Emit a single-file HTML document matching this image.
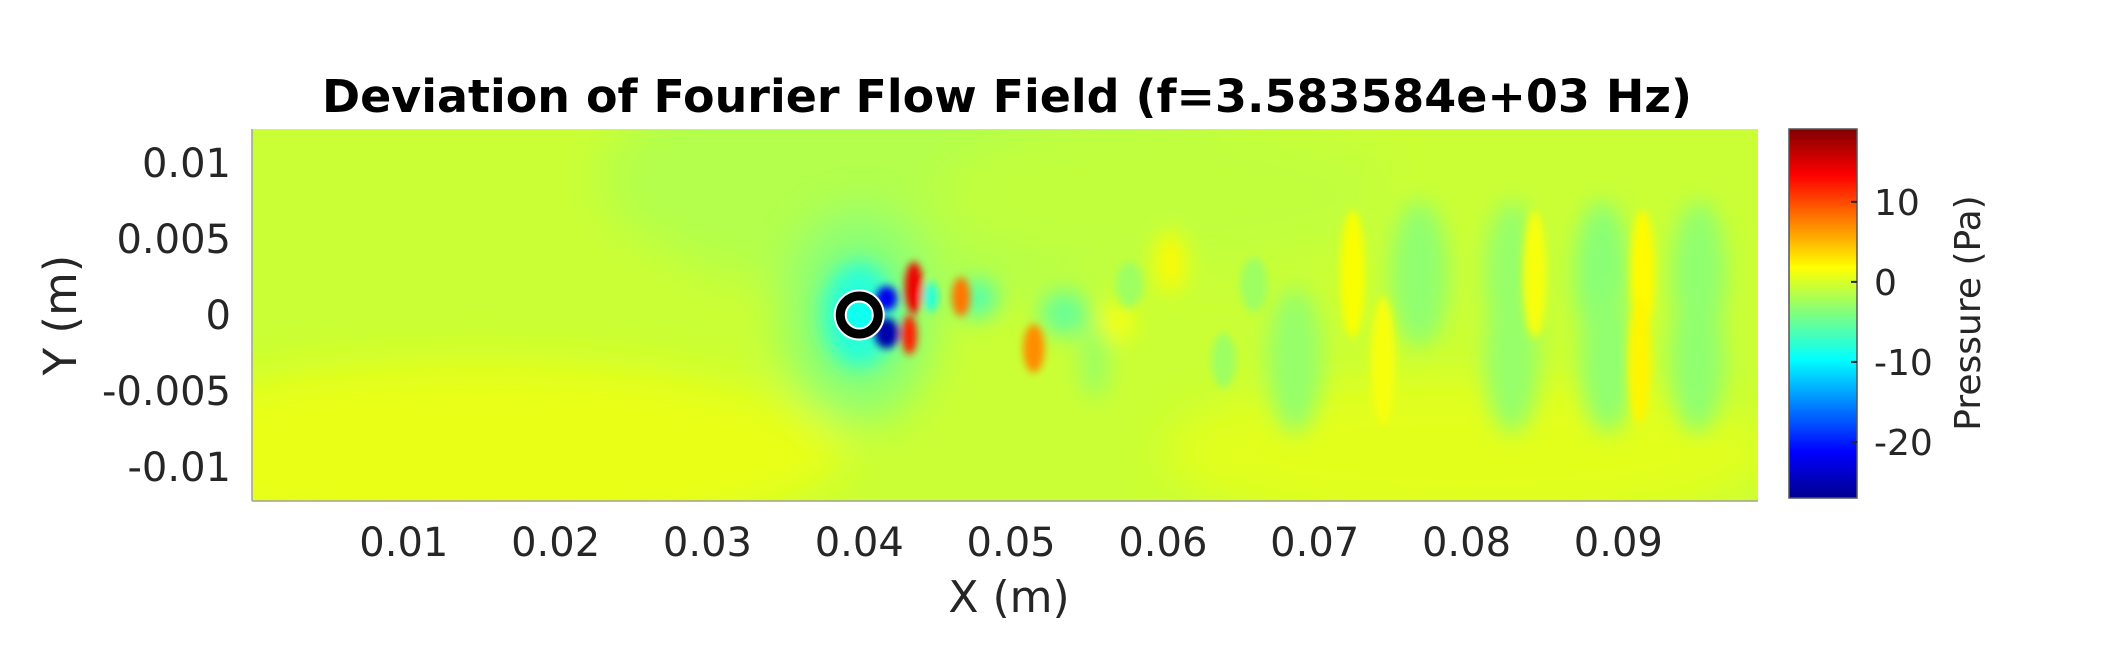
<!DOCTYPE html>
<html><head><meta charset="utf-8"><style>
html,body{margin:0;padding:0;background:#fff;}
svg{display:block;font-family:"DejaVu Sans","Liberation Sans",sans-serif;}
</style></head><body>
<svg id="chart" width="2126" height="650" viewBox="0 0 2126 650">
<defs>
<filter id="blurH" x="-30%" y="-30%" width="160%" height="160%"><feGaussianBlur stdDeviation="22"/></filter>
<filter id="blur" x="-30%" y="-30%" width="160%" height="160%"><feGaussianBlur stdDeviation="11"/></filter>
<filter id="blur2" x="-60%" y="-60%" width="220%" height="220%"><feGaussianBlur stdDeviation="4"/></filter>
<clipPath id="plotclip"><rect x="252" y="129" width="1506" height="372"/></clipPath>
<linearGradient id="jet" x1="0" y1="1" x2="0" y2="0">
<stop offset="0" stop-color="#00008f"/><stop offset="0.125" stop-color="#0000ff"/><stop offset="0.375" stop-color="#00ffff"/><stop offset="0.625" stop-color="#ffff00"/><stop offset="0.875" stop-color="#ff0000"/><stop offset="1" stop-color="#800000"/>
</linearGradient>
</defs>
<text x="1007" y="112" text-anchor="middle" font-weight="bold" font-size="45" fill="#000" textLength="1370" lengthAdjust="spacingAndGlyphs">Deviation of Fourier Flow Field (f=3.583584e+03 Hz)</text>
<g id="field" clip-path="url(#plotclip)"></g>
<line x1="252" y1="129" x2="252" y2="501" stroke="#a0a0a0" stroke-width="1.5"/>
<line x1="252" y1="501" x2="1758" y2="501" stroke="#a0a0a0" stroke-width="1.5"/>
<g id="xticks"></g>
<g id="yticks"></g>
<text x="1009" y="612" text-anchor="middle" font-size="44" fill="#262626">X (m)</text>
<text transform="translate(76,315) rotate(-90)" text-anchor="middle" font-size="45" fill="#262626">Y (m)</text>
<rect x="1789" y="129" width="68" height="369" fill="url(#jet)" stroke="#555" stroke-width="1.5"/>
<g id="cticks"></g>
<text transform="translate(1980,313) rotate(-90)" text-anchor="middle" font-size="36" fill="#262626">Pressure (Pa)</text>
</svg>
<script>
// axes data
const xTicks = [0.01,0.02,0.03,0.04,0.05,0.06,0.07,0.08,0.09];
const yTicks = [0.01,0.005,0,-0.005,-0.01];
const yTickLabels = ["0.01","0.005","0","-0.005","-0.01"];
const cTicks = [10,0,-10,-20];
// broad background regions: centre x, centre y, radius x, radius y (m), pressure (Pa)
const regX  = [0.045,0.015,0.080,0.040,0.060];
const regY  = [0.009,-0.009,-0.009,0,0.008];
const regRX = [0.022,0.024,0.02,0.005,0.015];
const regRY = [0.008,0.006,0.005,0.007,0.005];
const regP  = [-1.6,0.8,0.5,-3.5,-1.0];
// field blobs: centre x, centre y, radius x, radius y (m), pressure (Pa)
const blobX  = [0.040,0.0418,0.0418,0.0436,0.0433,0.0447,0.0467,0.0515,0.0478,0.0535,0.0769,0.0830,0.0889,0.0953,0.0725,0.0845,0.0916,0.0687,0.0830,0.0893,0.0952,0.0745,0.0914,0.0605,0.0555,0.0640,0.0578,0.0570,0.0660];
const blobY  = [0,0.0011,-0.0012,0.0018,-0.0013,0.0012,0.0012,-0.0022,0.0011,0.0001,0.0027,0.0027,0.0027,0.0027,0.0027,0.0027,0.0027,-0.003,-0.003,-0.003,-0.003,-0.003,-0.003,0.0035,-0.003,-0.003,0.002,-0.0005,0.002];
const blobRX = [0.0024,0.0007,0.0008,0.0006,0.0005,0.0005,0.0006,0.0007,0.0013,0.0016,0.0019,0.0018,0.0018,0.0018,0.0008,0.0008,0.0008,0.0018,0.0018,0.0018,0.0018,0.0008,0.0008,0.001,0.001,0.0008,0.0009,0.0011,0.0009];
const blobRY = [0.0035,0.0008,0.0010,0.0017,0.0013,0.0010,0.0013,0.0016,0.0013,0.0015,0.0048,0.0048,0.0048,0.0048,0.0042,0.0042,0.0042,0.0048,0.0048,0.0048,0.0048,0.0042,0.0042,0.002,0.0025,0.0018,0.0015,0.0012,0.0018];
const blobP  = [-8,-22,-25,14,12,-8,8,7,-6,-5,-3.2,-3,-3.5,-3.2,1.6,1.5,2,-3,-3,-3.2,-3.2,1.5,2.2,2,-2.6,-2.6,-2.6,1.4,-2.6];
const baseP = -0.6;
const vMin = -27, vMax = 19.1;
const cyl = {x:0.04, y:0};

const X0=252, X1=1758, Y0=129, Y1=501;
const xMin=0, xMax=0.0992, yMin=-0.01224, yMax=0.01224;
const sx = v => X0 + (v-xMin)/(xMax-xMin)*(X1-X0);
const sy = v => Y1 - (v-yMin)/(yMax-yMin)*(Y1-Y0);
const kx = (X1-X0)/(xMax-xMin), ky=(Y1-Y0)/(yMax-yMin);
const cy = v => 498 - (v-vMin)/(vMax-vMin)*(498-129);
function jet(v){
  const t=Math.max(0,Math.min(1,(v-vMin)/(vMax-vMin)));
  const c=x=>Math.round(255*Math.max(0,Math.min(1,x)));
  return `rgb(${c(Math.min(4*t-1.5,-4*t+4.5))},${c(Math.min(4*t-0.5,-4*t+3.5))},${c(Math.min(4*t+0.5,-4*t+2.5))})`;
}
const NS='http://www.w3.org/2000/svg';
function mk(tag,attrs,parent){const e=document.createElementNS(NS,tag);for(const k in attrs)e.setAttribute(k,attrs[k]);parent.appendChild(e);return e;}
const field=document.getElementById('field');
const bg=mk('rect',{x:X0,y:Y0,width:X1-X0,height:Y1-Y0,fill:jet(baseP)},field);


const gReg=mk('g',{filter:'url(#blurH)'},field);
for(let i=0;i<regX.length;i++){
  const e=mk('ellipse',{cx:sx(regX[i]),cy:sy(regY[i]),rx:regRX[i]*kx,ry:regRY[i]*ky,fill:jet(regP[i])},gReg);
  
  
}
const gBig=mk('g',{filter:'url(#blur)'},field);
const gSmall=mk('g',{filter:'url(#blur2)'},field);
for(let i=0;i<blobX.length;i++){
  const small = blobRX[i]<0.001;
  const e=mk('ellipse',{cx:sx(blobX[i]),cy:sy(blobY[i]),rx:blobRX[i]*kx,ry:blobRY[i]*ky,fill:jet(blobP[i])},small?gSmall:gBig);
  
  
}
const ring=mk('circle',{cx:sx(cyl.x),cy:sy(cyl.y),r:19,fill:jet(-9),stroke:'#000','stroke-width':10},field);


const ringO=mk('circle',{cx:sx(cyl.x),cy:sy(cyl.y),r:24.5,fill:'none',stroke:'#fff','stroke-width':2},field);


const ringI=mk('circle',{cx:sx(cyl.x),cy:sy(cyl.y),r:13.5,fill:'none',stroke:'#fff','stroke-width':2},field);



const xt=document.getElementById('xticks');
xTicks.forEach(v=>{
  const t=mk('text',{x:sx(v),y:556,'text-anchor':'middle','font-size':40,fill:'#262626'},xt);
  t.textContent=v.toFixed(2);
  
  
});
const yt=document.getElementById('yticks');
yTicks.forEach((v,i)=>{
  const t=mk('text',{x:231,y:sy(v)+14,'text-anchor':'end','font-size':40,fill:'#262626'},yt);
  t.textContent=yTickLabels[i];
  
  
});
const ct=document.getElementById('cticks');
cTicks.forEach(v=>{
  const l=mk('line',{x1:1851,x2:1857,y1:cy(v),y2:cy(v),stroke:'#262626','stroke-width':2},ct);
  
  
  const t=mk('text',{x:1874,y:cy(v)+13,'font-size':36,fill:'#262626'},ct);
  t.textContent=String(v);
  
  
});
</script>
</body></html>
